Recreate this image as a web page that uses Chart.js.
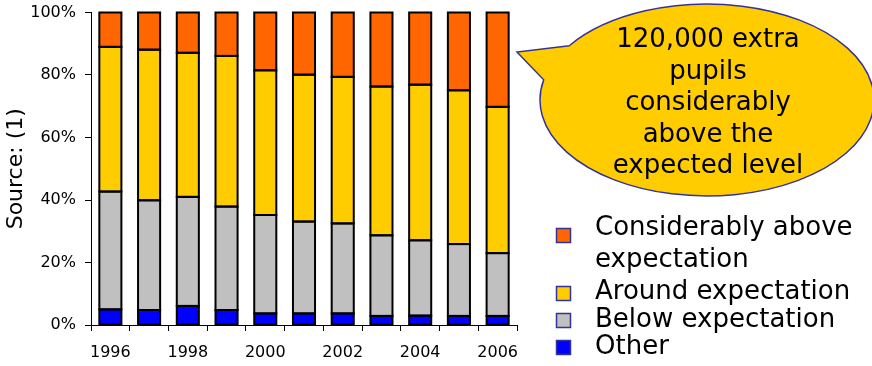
<!DOCTYPE html>
<html>
<head>
<meta charset="utf-8">
<script src="https://cdn.jsdelivr.net/npm/chart.js@4.4.1/dist/chart.umd.min.js"></script>
<style>
  html, body { margin: 0; padding: 0; background: #fff; }
  canvas { display: block; }
</style>
</head>
<body>
<canvas id="chart" width="872" height="366"></canvas>
<script>
const years = ["1996", "1997", "1998", "1999", "2000", "2001", "2002", "2003", "2004", "2005", "2006"];
const yTicks = [0, 20, 40, 60, 80, 100];

// shares in %, bottom to top of each bar
const other = [5.0, 4.8, 6.1, 4.8, 3.7, 3.7, 3.7, 2.9, 3.0, 2.9, 2.9];
const below = [37.7, 35.1, 34.9, 33.1, 31.5, 29.4, 28.8, 25.8, 24.1, 23.0, 20.1];
const around = [46.3, 48.2, 46.1, 48.2, 46.3, 47.0, 46.9, 47.6, 49.8, 49.2, 46.8];
const above = [11.0, 11.9, 12.9, 13.9, 18.5, 19.9, 20.6, 23.7, 23.1, 24.9, 30.2];

const legendLines = [
  ["Considerably above", "expectation"],
  ["Around expectation"],
  ["Below expectation"],
  ["Other"]
];
const calloutLines = ["120,000 extra", "pupils", "considerably", "above the", "expected level"];

const FONT = "'DejaVu Sans', Verdana, sans-serif";

// excel style outlines: one 2px line on every segment edge
const outlinePlugin = {
  id: "outlines",
  afterDatasetsDraw(chart) {
    const ctx = chart.ctx;
    ctx.save();
    ctx.lineWidth = 2;
    ctx.strokeStyle = "#000";
    chart.data.datasets.forEach((ds, i) => {
      chart.getDatasetMeta(i).data.forEach(bar => {
        const p = bar.getProps(["x", "y", "base", "width"], true);
        ctx.strokeRect(p.x - p.width / 2, Math.min(p.y, p.base), p.width, Math.abs(p.base - p.y));
      });
    });
    ctx.restore();
  }
};

// legend + callout drawn on the canvas after the chart
const extrasPlugin = {
  id: "extras",
  afterDraw(chart) {
    const ctx = chart.ctx;
    ctx.save();

    // callout bubble
    const cx = 707, cy = 100, rx = 167, ry = 96;
    const a1 = Math.atan2((46 - cy) / ry, (570 - cx) / rx);
    const a2 = Math.atan2((80 - cy) / ry, (545 - cx) / rx);
    ctx.beginPath();
    ctx.moveTo(cx + rx * Math.cos(a1), cy + ry * Math.sin(a1));
    ctx.lineTo(517, 52);
    ctx.lineTo(cx + rx * Math.cos(a2), cy + ry * Math.sin(a2));
    ctx.ellipse(cx, cy, rx, ry, 0, a2, a1, true);
    ctx.closePath();
    ctx.fillStyle = "#FFCC00";
    ctx.fill();
    ctx.lineWidth = 1.5;
    ctx.strokeStyle = "#333399";
    ctx.stroke();

    ctx.fillStyle = "#000";
    ctx.font = "26px " + FONT;
    ctx.textAlign = "center";
    ctx.textBaseline = "alphabetic";
    calloutLines.forEach((t, i) => ctx.fillText(t, 708, 47 + i * 31.5));

    // legend, top item first
    const order = [3, 2, 1, 0];
    const baselines = [[235, 267], [299], [327], [354]];
    const boxes = [228, 286, 313, 340];
    ctx.textAlign = "left";
    order.forEach((di, i) => {
      const ds = chart.data.datasets[di];
      ctx.fillStyle = ds.backgroundColor;
      ctx.fillRect(556.5, boxes[i] + 0.5, 14, 14);
      ctx.lineWidth = 1.5;
      ctx.strokeStyle = "#333399";
      ctx.strokeRect(556.5, boxes[i] + 0.5, 14, 14);
      ctx.fillStyle = "#000";
      legendLines[i].forEach((t, j) => ctx.fillText(t, 595, baselines[i][j]));
    });

    ctx.restore();
  }
};

const ctx = document.getElementById("chart").getContext("2d");
const chart = new Chart(ctx, {
  type: "bar",
  data: {
    labels: years,
    datasets: [
      { label: "Other", data: other, backgroundColor: "#0000FF" },
      { label: "Below expectation", data: below, backgroundColor: "#C0C0C0" },
      { label: "Around expectation", data: around, backgroundColor: "#FFCC00" },
      { label: "Considerably above expectation", data: above, backgroundColor: "#FF6600" }
    ].map(d => Object.assign(d, { borderWidth: 0, barPercentage: 0.57, categoryPercentage: 1 }))
  },
  options: {
    responsive: false,
    animation: false,
    devicePixelRatio: 1,
    layout: { padding: { top: 12.5, right: 355, bottom: 0, left: 0 } },
    plugins: { legend: { display: false }, tooltip: { enabled: false } },
    scales: {
      x: {
        stacked: true,
        afterFit: s => { s.height = 41; s.paddingLeft = 0; s.paddingRight = 0; },
        grid: { offset: true, drawOnChartArea: false, drawTicks: true, tickLength: 6, color: "#000" },
        border: { display: true, color: "#000", width: 1 },
        ticks: {
          autoSkip: false,
          maxRotation: 0,
          padding: 12,
          color: "#000",
          font: { family: FONT, size: 16 },
          callback: function (v, i) { return i % 2 === 0 ? this.getLabelForValue(v) : ""; }
        }
      },
      y: {
        stacked: true,
        min: 0,
        max: 100,
        afterFit: s => { s.width = 91; s.paddingTop = 0; s.paddingBottom = 0; },
        afterBuildTicks: s => { s.ticks = yTicks.map(v => ({ value: v })); },
        grid: { drawOnChartArea: false, drawTicks: true, tickLength: 6, color: "#000" },
        border: { display: true, color: "#000", width: 1 },
        ticks: {
          padding: 9,
          color: "#000",
          font: { family: FONT, size: 16 },
          callback: v => v + "%"
        },
        title: {
          display: true,
          text: "Source: (1)",
          color: "#000",
          font: { family: FONT, size: 22 },
          padding: { top: 3, bottom: 0 }
        }
      }
    }
  },
  plugins: [outlinePlugin, extrasPlugin]
});
</script>
</body>
</html>
